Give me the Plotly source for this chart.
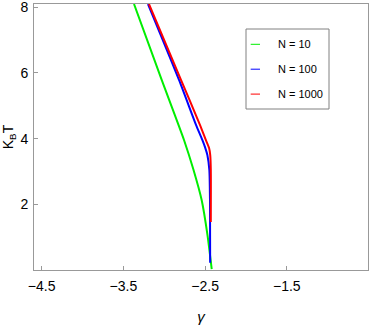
import plotly.graph_objects as go

# Data
kT_n10 = [8.10, 5.79, 3.96, 3.05, 2.13, 1.07, 0.03]
g_n10 = [-3.370, -3.031, -2.758, -2.642, -2.542, -2.471, -2.419]

kT_n100 = [8.10, 5.79, 4.42, 3.96, 3.72, 3.50, 3.05, 2.13, 0.22]
g_n100 = [-3.199, -2.819, -2.611, -2.534, -2.498, -2.472, -2.448, -2.440, -2.438]

kT_n1000 = [8.10, 5.79, 4.42, 3.96, 3.72, 3.50, 3.05, 1.46]
g_n1000 = [-3.187, -2.795, -2.563, -2.491, -2.452, -2.437, -2.430, -2.430]

series_names = ["N = 10", "N = 100", "N = 1000"]
series_colors = ["#00ee00", "#0000ff", "#ff0000"]
x_ticks = [-4.5, -3.5, -2.5, -1.5, -0.5]
y_ticks = [2, 4, 6, 8]

fig = go.Figure()
for g, t, name, col in zip([g_n10, g_n100, g_n1000], [kT_n10, kT_n100, kT_n1000],
                           series_names, series_colors):
    fig.add_trace(go.Scatter(x=g, y=t, mode="lines", name=name,
                             line=dict(color=col, width=2, shape="spline", smoothing=0.6),
                             showlegend=False))

# manual legend (box, samples, labels)
lx0, lx1, ly0, ly1 = 246, 329, 29, 109
W, H = 382, 327
ml, mr, mt, mb = 34, 14, 4, 57
pw, ph = W - ml - mr, H - mt - mb

def px(x):
    return (x - ml) / pw

def py(y):
    return 1 - (y - mt) / ph

fig.add_shape(type="rect", xref="paper", yref="paper",
              x0=px(lx0), x1=px(lx1), y0=py(ly1), y1=py(ly0),
              line=dict(color="#808080", width=1), fillcolor="white")
for i, (name, col) in enumerate(zip(series_names, series_colors)):
    yy = 44.3 + i * 24.9
    fig.add_shape(type="line", xref="paper", yref="paper",
                  x0=px(250.7), x1=px(260), y0=py(yy), y1=py(yy),
                  line=dict(color=col, width=1))
    fig.add_annotation(xref="paper", yref="paper", x=px(276), y=py(yy),
                       text=name, showarrow=False, xanchor="left", yanchor="middle",
                       font=dict(size=11, color="black"))

fig.update_layout(
    width=W, height=H,
    margin=dict(l=ml, r=mr, t=mt, b=mb, autoexpand=False),
    paper_bgcolor="white", plot_bgcolor="white",
    font=dict(family="Liberation Sans, Arial, sans-serif", color="black"),
    xaxis=dict(range=[-4.594, -0.506], tickvals=x_ticks, ticks="inside", ticklen=4,
               tickcolor="#999999", showline=True, linecolor="#999999", linewidth=1,
               mirror=True, showgrid=False, zeroline=False, automargin=False,
               ticklabeloverflow="allow",
               tickfont=dict(size=14), ticklabelstandoff=3,
               title=dict(text="<i>γ</i>", font=dict(size=15), standoff=18)),
    yaxis=dict(range=[0.0, 8.10], tickvals=y_ticks, ticks="inside", ticklen=4,
               tickcolor="#999999", showline=True, linecolor="#999999", linewidth=1,
               mirror=True, showgrid=False, zeroline=False, automargin=False,
               ticklabeloverflow="allow",
               tickfont=dict(size=14), ticklabelstandoff=2,
               title=dict(text="K<sub>B</sub>T", font=dict(size=14), standoff=6)),
)

fig.write_html("out.html", config={"displayModeBar": False},
               post_script="document.body.style.margin='0';document.body.style.overflow='hidden';")
